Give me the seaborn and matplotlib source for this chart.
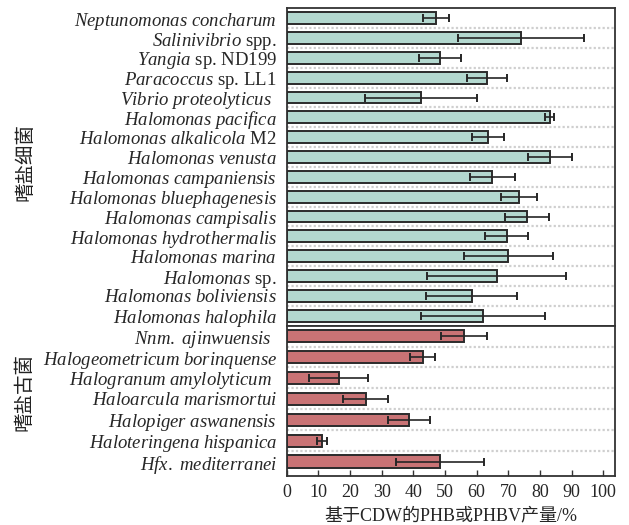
import numpy as np
import pandas as pd
import matplotlib
matplotlib.use("Agg")
import matplotlib.pyplot as plt
import seaborn as sns

# ---------------- data ----------------
bact_names = [
    r"$\mathit{Neptunomonas\ concharum}$",
    r"$\mathit{Salinivibrio}$ spp.",
    r"$\mathit{Yangia}$ sp. ND199",
    r"$\mathit{Paracoccus}$ sp. LL1",
    r"$\mathit{Vibrio\ proteolyticus}$  ",
    r"$\mathit{Halomonas\ pacifica}$",
    r"$\mathit{Halomonas\ alkalicola}$ M2",
    r"$\mathit{Halomonas\ venusta}$",
    r"$\mathit{Halomonas\ campaniensis}$",
    r"$\mathit{Halomonas\ bluephagenesis}$",
    r"$\mathit{Halomonas\ campisalis}$",
    r"$\mathit{Halomonas\ hydrothermalis}$",
    r"$\mathit{Halomonas\ marina}$",
    r"$\mathit{Halomonas}$ sp.",
    r"$\mathit{Halomonas\ boliviensis}$",
    r"$\mathit{Halomonas\ halophila}$",
]
bact_vals = [47.1, 74.0, 48.3, 63.2, 42.4, 83.1, 63.5, 83.1, 65.0, 73.4, 76.0, 69.5, 70.0, 66.3, 58.5, 61.9]
bact_errs = [4.2, 19.8, 6.6, 6.4, 17.6, 1.4, 5.0, 7.0, 7.1, 5.7, 7.0, 6.8, 14.1, 21.9, 14.4, 19.6]

arch_names = [
    r"$\mathit{Nnm.\ ajinwuensis}$  ",
    r"$\mathit{Halogeometricum\ borinquense}$",
    r"$\mathit{Halogranum\ amylolyticum}$  ",
    r"$\mathit{Haloarcula\ marismortui}$",
    r"$\mathit{Halopiger\ aswanensis}$",
    r"$\mathit{Haloteringena\ hispanica}$",
    r"$\mathit{Hfx.\ mediterranei}$",
]
arch_vals = [56.0, 42.9, 16.4, 25.0, 38.7, 11.2, 48.3]
arch_errs = [7.2, 4.1, 9.4, 7.1, 6.7, 1.5, 13.9]

x_ticks = [0, 10, 20, 30, 40, 50, 60, 70, 80, 90, 100]
group_labels = ["嗜盐细菌", "嗜盐古菌"]
x_label = "基于CDW的PHB或PHBV产量/%"

# ---------------- style ----------------
sns.set_theme(style="white")
plt.rcParams["font.family"] = ["Liberation Serif", "Noto Sans CJK SC"]
plt.rcParams["mathtext.fontset"] = "custom"
plt.rcParams["mathtext.it"] = "Liberation Serif:italic"
plt.rcParams["mathtext.rm"] = "Liberation Serif"

fig = plt.figure(figsize=(6.29, 5.25), dpi=100)
W, H = 629, 525
left, right = 286.7 / W, 615 / W
top_y, mid_y, bot_y = 8.3, 325.6, 476
ax1 = fig.add_axes([left, 1 - mid_y / H, right - left, (mid_y - top_y) / H])
ax2 = fig.add_axes([left, 1 - bot_y / H, right - left, (bot_y - mid_y) / H])

colors = ["#b3d8cf", "#c97375"]
edge = "#2b2b2b"

panels = [
    (ax1, bact_names, bact_vals, bact_errs, colors[0], (len(bact_names) - 0.5, -0.5)),
    (ax2, arch_names, arch_vals, arch_errs, colors[1], (len(arch_names) - 0.32, -0.5)),
]

for ax, names, vals, errs, col, ylim in panels:
    df = pd.DataFrame({"name": names, "val": vals, "err": errs})
    sns.barplot(data=df, x="val", y="name", orient="h", color=col,
                edgecolor=edge, linewidth=1.4, width=0.6, errorbar=None,
                saturation=1, ax=ax, zorder=3)
    ax.errorbar(df["val"], np.arange(len(df)), xerr=df["err"], fmt="none",
                ecolor="#262626", elinewidth=1.2, capsize=2.6, capthick=1.4, zorder=4)
    for i in range(len(df) - 1):
        ax.axhline(i + 0.5, color="#cfcfcf", linestyle=(0, (1, 1)), linewidth=1.6, zorder=1)
    ax.set_xlim(0, 103.7)
    ax.set_ylim(*ylim)
    ax.set_xlabel("")
    ax.set_ylabel("")
    ax.tick_params(axis="y", length=0, pad=7, labelsize=13.5)
    for s in ax.spines.values():
        s.set_visible(True)
        s.set_color("#333333")
        s.set_linewidth(1.3)

ax1.set_xticks(x_ticks)
ax1.tick_params(axis="x", bottom=False, labelbottom=False)
ax2.set_xticks(x_ticks)
ax2.tick_params(axis="x", direction="in", length=4, width=1, color="#333333",
                bottom=True, labelsize=13, pad=6)
ax2.set_xlabel(x_label, fontsize=13, labelpad=4)

fig.text(25 / W, 1 - 162 / H, group_labels[0], rotation=90, ha="center", va="center",
         fontsize=14, family=["Noto Sans CJK SC"], color="#222222")
fig.text(24 / W, 1 - 392 / H, group_labels[1], rotation=90, ha="center", va="center",
         fontsize=14, family=["Noto Sans CJK SC"], color="#222222")

fig.savefig("out.png", dpi=100)
